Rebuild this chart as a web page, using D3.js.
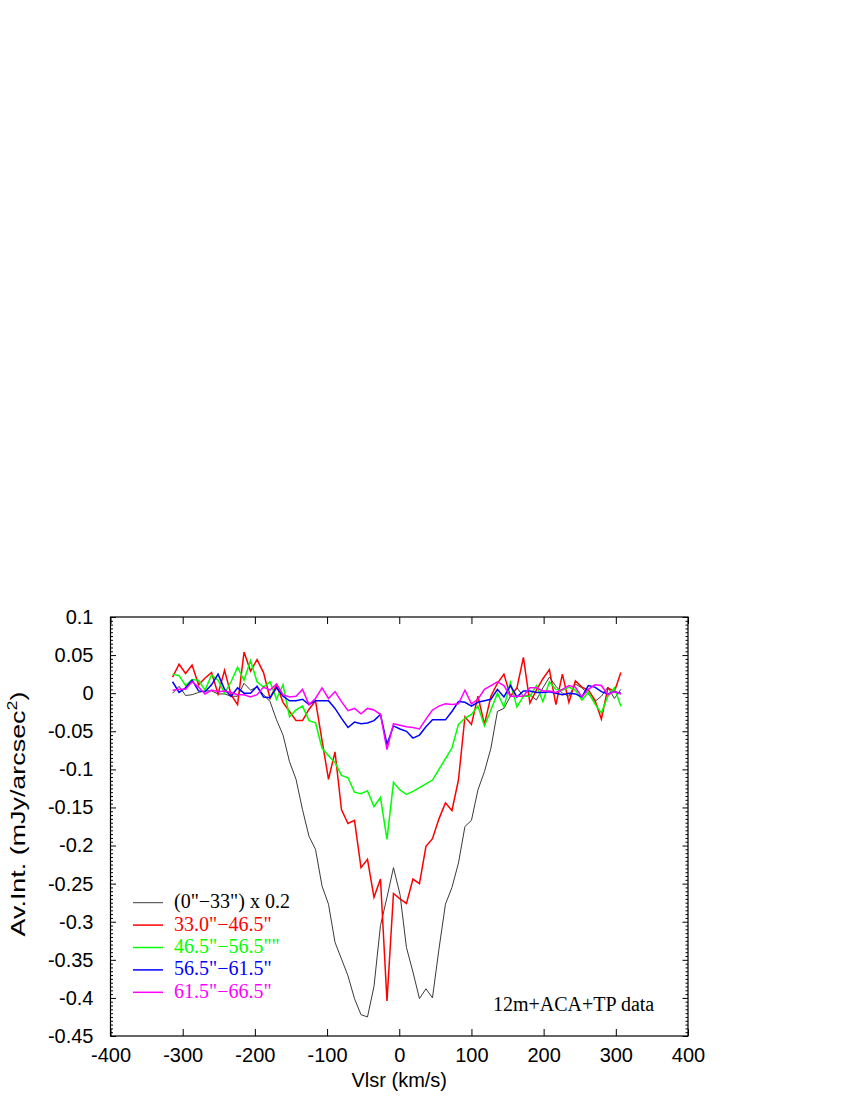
<!doctype html>
<html lang="en">
<head>
<meta charset="utf-8">
<title>Av.Int. vs Vlsr</title>
<script src="https://d3js.org/d3.v7.min.js"></script>
<style>
    body { margin: 0; background: #fff; }
    .axis text { font-family: "Liberation Sans", Arial, sans-serif; font-size: 20px; fill: #000; }
    .axis path, .axis line { stroke: #000; stroke-width: 1px; }
    .title { font-family: "Liberation Sans", Arial, sans-serif; font-size: 20px; fill: #000; }
    .legend text, .note { font-family: "Liberation Serif", "Times New Roman", serif; font-size: 20px; }
    .lineChart { fill: none; stroke-width: 1.5px; }
</style>
</head>
<body>
<svg width="850" height="1100"></svg>
<script>
// channel velocities (km/s)
var velocity = [-314, -305, -296, -287, -278, -269, -260, -251, -242, -233,
                -224, -215, -206, -197, -188, -179, -170, -161, -152, -143,
                -134, -125, -116, -107, -98, -89, -80, -71, -62, -53,
                -44, -35, -26, -17, -8, 1, 10, 19, 28, 37,
                46, 55, 64, 73, 82, 91, 100, 109, 118, 127,
                136, 145, 154, 163, 172, 181, 190, 199, 208, 217,
                226, 235, 244, 253, 262, 271, 280, 289, 298, 307];

var series = ["(0\"\u221233\") x 0.2", "33.0\"\u221246.5\"", "46.5\"\u221256.5\"\"", "56.5\"\u221261.5\"", "61.5\"\u221266.5\""];

var inner = [0.000, 0.009, -0.003, -0.002, 0.001, 0.003, 0.003, -0.001, -0.001, -0.004,
             -0.004, 0.013, 0.004, 0.008, -0.002, -0.011, -0.035, -0.055, -0.090, -0.113,
             -0.153, -0.188, -0.205, -0.253, -0.277, -0.327, -0.349, -0.371, -0.401, -0.422,
             -0.425, -0.385, -0.305, -0.268, -0.229, -0.264, -0.334, -0.366, -0.401, -0.388,
             -0.400, -0.336, -0.277, -0.255, -0.223, -0.175, -0.167, -0.127, -0.103, -0.072,
             -0.024, -0.020, -0.004, 0.007, -0.004, -0.002, -0.009, 0.007, 0.021, 0.009,
             0.000, -0.004, 0.012, 0.007, -0.001, -0.011, -0.004, 0.008, -0.007, 0.005];

var ring1 = [0.021, 0.038, 0.026, 0.037, 0.011, 0.020, 0.027, -0.001, 0.030, -0.002,
             -0.015, 0.054, 0.029, 0.044, 0.027, -0.007, 0.011, -0.012, -0.024, -0.036,
             -0.036, -0.021, -0.010, -0.062, -0.113, -0.077, -0.153, -0.171, -0.167, -0.229,
             -0.218, -0.268, -0.244, -0.404, -0.263, -0.270, -0.276, -0.244, -0.250, -0.201,
             -0.191, -0.165, -0.144, -0.154, -0.114, -0.031, -0.041, -0.004, -0.041, -0.004,
             0.013, 0.025, -0.004, 0.007, 0.047, -0.013, 0.004, 0.019, 0.031, -0.015,
             0.025, -0.012, 0.016, 0.008, 0.004, -0.009, -0.034, 0.007, 0.002, 0.027];

var ring2 = [0.025, 0.023, 0.010, 0.018, 0.017, 0.004, 0.024, 0.017, 0.000, 0.015,
             0.034, 0.017, 0.043, 0.015, 0.008, 0.015, -0.008, 0.011, -0.031, -0.022,
             -0.017, -0.036, -0.039, -0.072, -0.082, -0.091, -0.108, -0.111, -0.130, -0.132,
             -0.128, -0.149, -0.137, -0.192, -0.117, -0.127, -0.133, -0.129, -0.124, -0.119,
             -0.114, -0.100, -0.086, -0.072, -0.041, -0.033, -0.028, -0.017, -0.043, -0.022,
             0.000, -0.018, 0.014, -0.018, -0.004, -0.004, 0.010, -0.011, 0.015, 0.005,
             0.004, 0.008, 0.004, -0.009, 0.001, -0.014, -0.026, -0.004, 0.007, -0.017];

var ring3 = [0.015, 0.001, 0.007, 0.017, 0.003, 0.002, 0.011, 0.025, 0.005, -0.004,
             0.007, 0.000, 0.000, 0.009, -0.005, -0.006, 0.007, -0.004, -0.010, -0.010,
             -0.008, -0.015, -0.010, -0.010, -0.010, -0.020, -0.033, -0.045, -0.038, -0.040,
             -0.039, -0.036, -0.028, -0.067, -0.043, -0.047, -0.050, -0.059, -0.055, -0.044,
             -0.035, -0.035, -0.035, -0.024, -0.011, -0.012, -0.017, -0.012, -0.010, -0.008,
             0.005, -0.005, 0.010, -0.005, 0.003, 0.003, 0.001, 0.001, 0.002, 0.000,
             -0.002, 0.000, -0.001, -0.005, 0.010, 0.008, 0.002, -0.001, 0.002, 0.000];

var ring4 = [0.004, 0.005, 0.005, 0.015, 0.008, -0.001, 0.004, 0.002, 0.003, 0.001,
             -0.002, -0.002, -0.005, -0.002, 0.008, 0.004, 0.012, -0.002, -0.005, -0.004,
             0.005, -0.015, -0.007, 0.007, -0.007, 0.002, -0.011, -0.023, -0.020, -0.027,
             -0.020, -0.022, -0.028, -0.074, -0.040, -0.042, -0.044, -0.045, -0.047, -0.034,
             -0.022, -0.017, -0.014, -0.015, -0.014, 0.004, -0.014, -0.008, 0.005, 0.010,
             0.015, 0.010, -0.004, -0.004, -0.004, 0.007, 0.007, 0.003, 0.003, 0.001,
             0.005, 0.010, 0.008, -0.005, 0.005, 0.011, 0.010, -0.002, 0.002, -0.001];

var xTicks = [-400, -300, -200, -100, 0, 100, 200, 300, 400];
var yTicks = [0.1, 0.05, 0, -0.05, -0.1, -0.15, -0.2, -0.25, -0.3, -0.35, -0.4, -0.45];

var colors = ["#3a3a3a", "#ff0000", "#00ff00", "#0000ff", "#ff00ff"];
var widths = [1, 1.5, 1.5, 1.5, 1.5];

var dataset = [inner, ring1, ring2, ring3, ring4];
var data = dataset.map(function(vals) {
    return vals.map(function(v, i) { return {x: velocity[i], y: v}; });
});

var svg = d3.select("svg");
var plotL = 110.5, plotR = 688, plotT = 617, plotB = 1036;

var xScale = d3.scaleLinear().domain([-400, 400]).range([plotL, plotR]);
var yScale = d3.scaleLinear().domain([-0.45, 0.1]).range([plotB, plotT]);

var fmt = function(d) { return String(+d.toFixed(2)); };

// minor y ticks (every 0.005)
var minor = d3.range(-450, 101, 5).filter(function(v) { return v % 50 !== 0; })
    .map(function(v) { return v / 1000; });

svg.append("g")
    .attr("class", "axis")
    .attr("transform", "translate(0," + plotB + ")")
    .call(d3.axisBottom(xScale).tickValues(xTicks).tickSize(-7).tickPadding(12).tickFormat(fmt))
    .call(function(g) { g.select(".domain").remove(); });

svg.append("g")
    .attr("class", "axis")
    .attr("transform", "translate(0," + plotT + ")")
    .call(d3.axisTop(xScale).tickValues(xTicks).tickSize(-7).tickFormat(""))
    .call(function(g) { g.select(".domain").remove(); });

svg.append("g")
    .attr("class", "axis")
    .attr("transform", "translate(" + plotL + ",0)")
    .call(d3.axisLeft(yScale).tickValues(yTicks).tickSize(-5.5).tickPadding(17).tickFormat(fmt))
    .call(function(g) { g.select(".domain").remove(); });

svg.append("g")
    .attr("class", "axis")
    .attr("transform", "translate(" + plotL + ",0)")
    .call(d3.axisLeft(yScale).tickValues(minor).tickSize(-2.5).tickFormat(""))
    .call(function(g) { g.select(".domain").remove(); });

svg.append("g")
    .attr("class", "axis")
    .attr("transform", "translate(" + plotR + ",0)")
    .call(d3.axisRight(yScale).tickValues(yTicks).tickSize(-5.5).tickFormat(""))
    .call(function(g) { g.select(".domain").remove(); });

svg.append("g")
    .attr("class", "axis")
    .attr("transform", "translate(" + plotR + ",0)")
    .call(d3.axisRight(yScale).tickValues(minor).tickSize(-2.5).tickFormat(""))
    .call(function(g) { g.select(".domain").remove(); });

svg.append("rect")
    .attr("x", plotL)
    .attr("y", plotT)
    .attr("width", plotR - plotL)
    .attr("height", plotB - plotT)
    .attr("fill", "none")
    .attr("stroke", "#000")
    .attr("stroke-width", 1.2);

var line = d3.line()
    .x(function(d) { return xScale(d.x); })
    .y(function(d) { return yScale(d.y); });

svg.append("g")
    .selectAll("path")
    .data(data)
    .enter().append("path")
    .attr("class", "lineChart")
    .style("stroke", function(d, i) { return colors[i]; })
    .style("stroke-width", function(d, i) { return widths[i]; })
    .attr("d", line);

// axis titles
svg.append("text")
    .attr("class", "title")
    .attr("x", (plotL + plotR) / 2)
    .attr("y", 1087)
    .attr("text-anchor", "middle")
    .text("Vlsr (km/s)");

var yt = svg.append("text")
    .attr("class", "title")
    .style("font-size", "21px")
    .attr("transform", "translate(25,814) rotate(-90) scale(1.28,1)")
    .attr("text-anchor", "middle");
yt.append("tspan").text("Av.Int. (mJy/arcsec");
yt.append("tspan").attr("font-size", "14px").attr("dy", "-8").text("2");
yt.append("tspan").attr("dy", "8").text(")");

// legend
var legend = svg.append("g")
    .attr("class", "legend")
    .selectAll("g")
    .data(series)
    .enter().append("g")
    .attr("transform", function(d, i) { return "translate(0," + (902.7 + i * 22.4) + ")"; });

legend.append("line")
    .attr("x1", 133)
    .attr("x2", 163)
    .attr("stroke", function(d, i) { return colors[i]; })
    .attr("stroke-width", function(d, i) { return widths[i]; });

legend.append("text")
    .attr("x", 174)
    .attr("dy", "0.27em")
    .attr("fill", function(d, i) { return i === 0 ? "#000" : colors[i]; })
    .text(function(d) { return d; });

svg.append("text")
    .attr("class", "note")
    .attr("x", 493)
    .attr("y", 1010.5)
    .text("12m+ACA+TP data");
</script>
</body>
</html>
